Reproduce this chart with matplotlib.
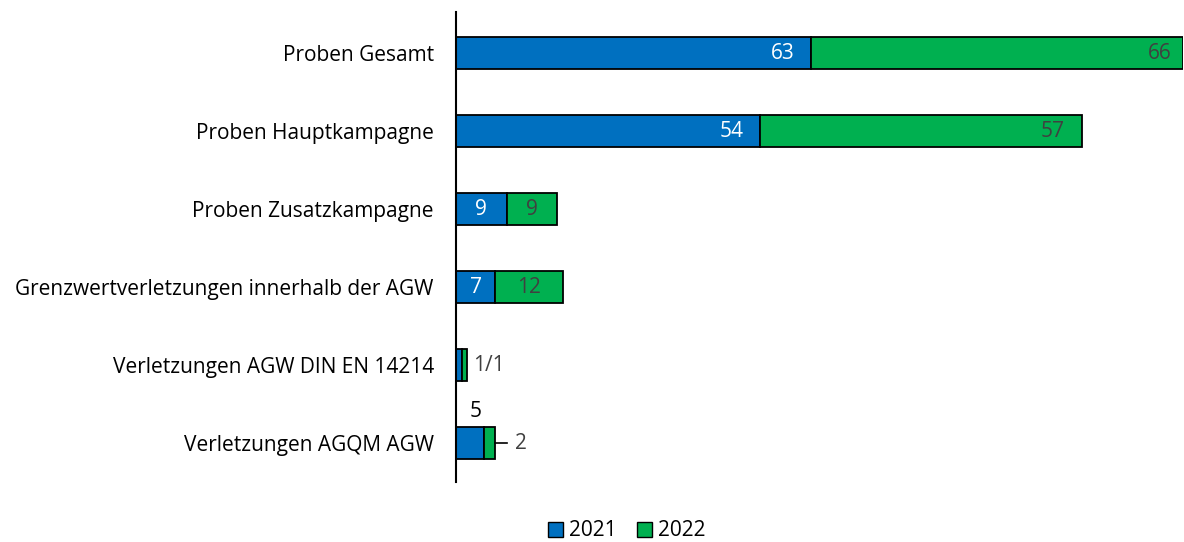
import matplotlib
matplotlib.use("Agg")
import matplotlib.pyplot as plt
from matplotlib.patches import Patch

categories = [
    "Proben Gesamt",
    "Proben Hauptkampagne",
    "Proben Zusatzkampagne",
    "Grenzwertverletzungen innerhalb der AGW",
    "Verletzungen AGW DIN EN 14214",
    "Verletzungen AGQM AGW",
]
vals_2021 = [63, 54, 9, 7, 1, 5]
vals_2022 = [66, 57, 9, 12, 1, 2]

BLUE = "#0070C0"
GREEN = "#00B050"
GREY = "#404040"

plt.rcParams["font.family"] = ["Open Sans", "DejaVu Sans"]
FS = 15

fig = plt.figure(figsize=(11.84, 5.42), dpi=100)
ax = fig.add_axes([456 / 1184, 1 - 482 / 542, (1183 - 456) / 1184, 470 / 542])

y = list(range(len(categories)))
h = 0.41
ax.barh(y, vals_2021, height=h, color=BLUE, edgecolor="black", linewidth=1.3, label="2021")
ax.barh(y, vals_2022, left=vals_2021, height=h, color=GREEN, edgecolor="black",
        linewidth=1.3, label="2022")

ax.set_xlim(0, 129)
ax.set_ylim(len(categories) - 0.5, -0.53)
ax.set_yticks(y)
ax.set_yticklabels(categories, fontsize=FS)
ax.tick_params(axis="y", length=0, pad=16)
ax.set_xticks([])
for s in ["top", "right", "bottom"]:
    ax.spines[s].set_visible(False)
ax.spines["left"].set_linewidth(1.5)

for i, (a, b) in enumerate(zip(vals_2021, vals_2022)):
    if i >= 4:
        continue
    # 2021 labels
    if a >= 20:
        ax.text(a - 3, i, str(a), ha="right", va="center", color="white", fontsize=FS)
    else:
        ax.text(a / 2, i, str(a), ha="center", va="center", color="white", fontsize=FS)
    # 2022 labels
    if b >= 20:
        ax.text(a + b - (2 if i == 0 else 3), i, str(b), ha="right", va="center",
                color=GREY, fontsize=FS)
    else:
        ax.text(a + b / 2, i, str(b), ha="center", va="center", color=GREY, fontsize=FS)

# small bars: labels outside
ax.text(vals_2021[4] + vals_2022[4] + 1, 4, f"{vals_2021[4]}/{vals_2022[4]}",
        ha="left", va="center", color=GREY, fontsize=FS)
ax.text(vals_2021[5] / 2 + 1, 5 - 0.4, str(vals_2021[5]), ha="center", va="center",
        color="black", fontsize=FS)
tot = vals_2021[5] + vals_2022[5]
ax.plot([tot, tot + 2], [5, 5], color="black", lw=1.2)
ax.text(tot + 3.5, 5, str(vals_2022[5]), ha="left", va="center", color=GREY, fontsize=FS)

handles = [Patch(facecolor=BLUE, edgecolor="black", label="2021"),
           Patch(facecolor=GREEN, edgecolor="black", label="2022")]
fig.legend(handles=handles, loc="center", bbox_to_anchor=(627 / 1184, 1 - 531 / 542),
           ncol=2, frameon=False, fontsize=FS, handlelength=0.7, handleheight=0.7,
           handletextpad=0.3, columnspacing=1.0)

fig.savefig("out.png", dpi=100)
